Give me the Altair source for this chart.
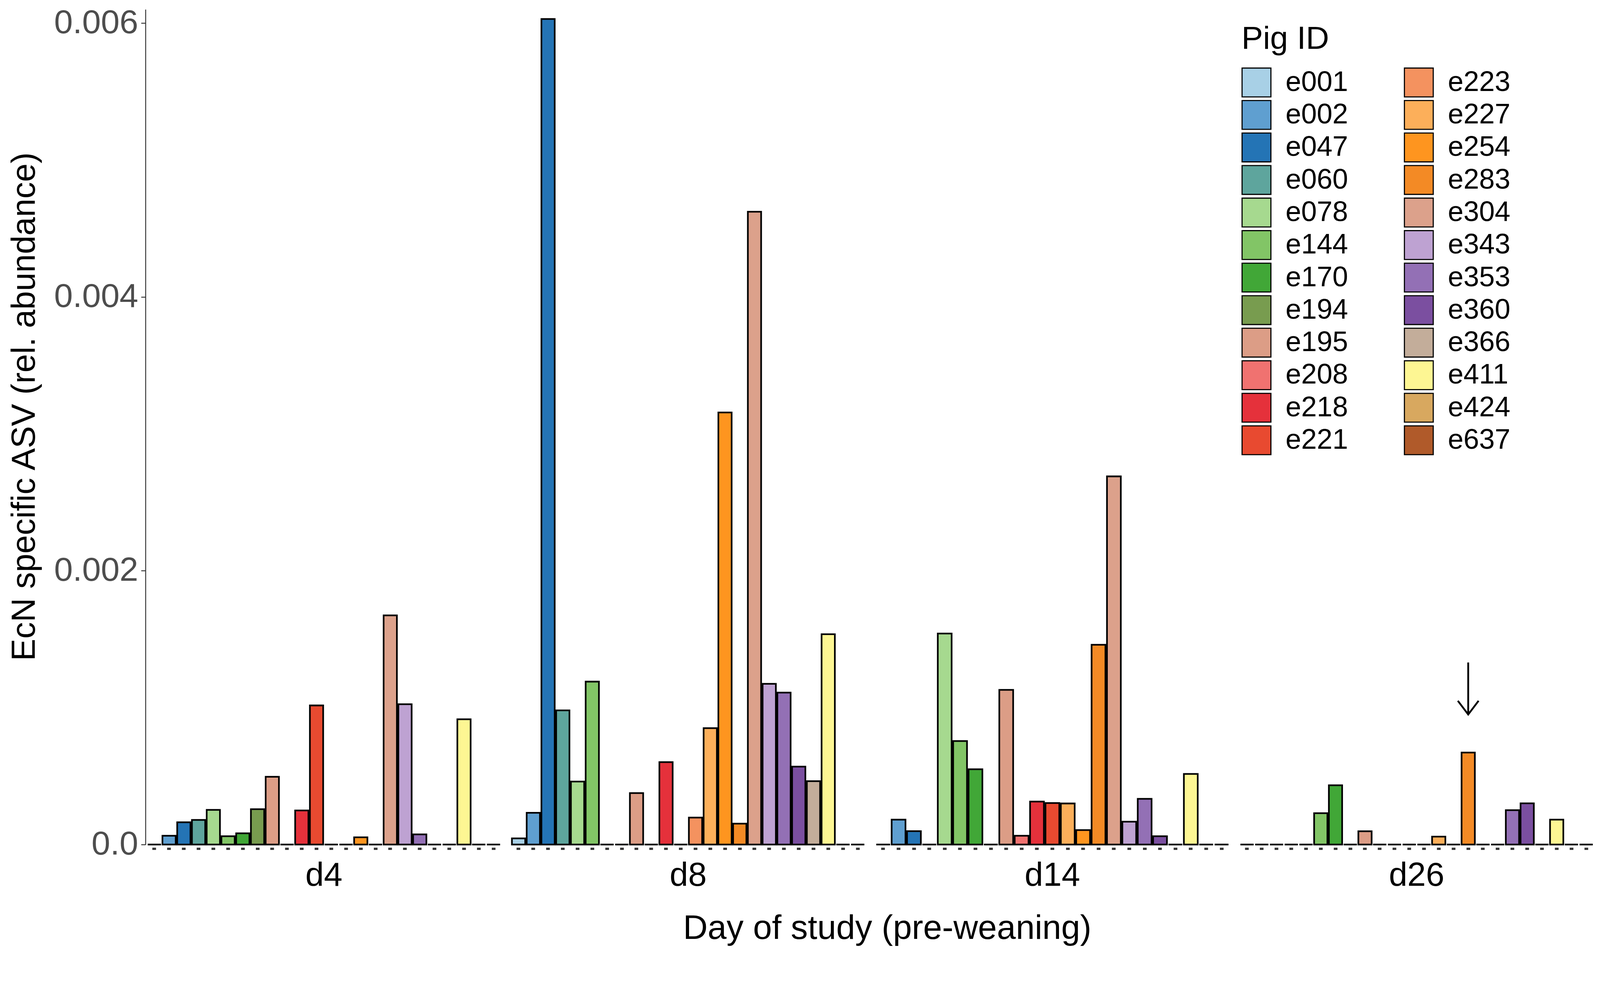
import altair as alt
import pandas as pd

PIGS = ["e001", "e002", "e047", "e060", "e078", "e144", "e170", "e194", "e195", "e208",
        "e218", "e221", "e223", "e227", "e254", "e283", "e304", "e343", "e353", "e360",
        "e366", "e411", "e424", "e637"]
COLORS = ["#a8d0e6", "#5f9fd0", "#2474b5", "#5ea59d", "#a6d98f", "#82c566", "#41a737",
          "#789c4f", "#dc9d86", "#f07270", "#e5313b", "#e84a30", "#f4925f", "#fcaf5a",
          "#fe951f", "#f38a25", "#dca18b", "#bea2d2", "#9370b5", "#7b4fa0", "#c3ad9a",
          "#fdf693", "#d8a85f", "#b05a2a"]
DAYS = ["d4", "d8", "d14", "d26"]

D4_VALUES = [0, 0.000064, 0.000163, 0.00018, 0.000253, 0.000061, 0.000082, 0.000258,
             0.000495, 0, 0.000249, 0.001016, 0, 0, 0.000053, 0, 0.001674, 0.001025,
             0.000074, 0, 0, 0.000915, 0, 0]
D8_VALUES = [0.000045, 0.000232, 0.00603, 0.00098, 0.00046, 0.00119, 0, 0, 0.000376, 0,
             0.000602, 0, 0.000197, 0.00085, 0.003156, 0.000153, 0.004622, 0.001174,
             0.00111, 0.000569, 0.000463, 0.001536, 0, 0]
D14_PIGS = [p for p in PIGS if p != "e223"]
D14_VALUES = [0, 0.000182, 0.000098, 0, 0.001541, 0.000756, 0.00055, 0, 0.00113, 0.000064,
              0.000314, 0.000303, 0.0003, 0.000106, 0.001459, 0.002689, 0.000167, 0.000334,
              0.000061, 0, 0.000516, 0, 0]
D26_VALUES = [0, 0, 0, 0, 0, 0.000229, 0.000433, 0, 0.000097, 0, 0, 0, 0, 0.000058, 0,
              0.000672, 0, 0, 0.000251, 0.000301, 0, 0.000182, 0, 0]

ARROW_DAY = "d26"
ARROW_PIG = "e283"
ARROW_TOP = 0.00133
ARROW_TIP = 0.00095

Y_TICKS = [0, 0.002, 0.004, 0.006]

rows = []
for day, pigs, vals in [("d4", PIGS, D4_VALUES), ("d8", PIGS, D8_VALUES),
                        ("d14", D14_PIGS, D14_VALUES), ("d26", PIGS, D26_VALUES)]:
    for p, v in zip(pigs, vals):
        rows.append({"day": day, "pig": p, "value": v})
df = pd.DataFrame(rows)

FONT = "Liberation Sans"
Y_TITLE = "EcN specific ASV (rel. abundance)"
X_TITLE = "Day of study (pre-weaning)"

x_enc = alt.X("pig:N", sort="ascending",
              scale=alt.Scale(paddingInner=0.1, paddingOuter=0.15),
              axis=alt.Axis(title=None, labels=False, domain=False, ticks=True,
                            tickSize=6, tickWidth=10, tickColor="#333333", offset=8,
                            grid=False))

y_axis = alt.Axis(values=Y_TICKS, title=Y_TITLE,
                  labelExpr="datum.value == 0 ? '0.0' : format(datum.value, '.3f')",
                  grid=False, domainColor="#333333", domainWidth=2.5,
                  tickColor="#333333", tickWidth=2.5, tickSize=12, labelPadding=8,
                  labelFontSize=91, labelColor="#4d4d4d", labelFont=FONT, labelLimit=400,
                  titleFontSize=90, titleFont=FONT, titleFontWeight="normal",
                  titleColor="black", titleX=-281, titleY=1074, titleLimit=3000)
y_scale = alt.Scale(domain=[0, 0.0061], nice=False, zero=True)

bars = alt.Chart().mark_bar(stroke="black", strokeWidth=4.5).encode(
    x=x_enc,
    y=alt.Y("value:Q", scale=y_scale, axis=y_axis),
    color=alt.Color("pig:N", scale=alt.Scale(domain=PIGS, range=COLORS),
                    legend=alt.Legend(
                        title="Pig ID", orient="none", legendX=2964, legendY=38,
                        columns=2, symbolType="square",
                        symbolSize=6084, symbolStrokeColor="black",
                        symbolStrokeWidth=3, symbolOpacity=1,
                        labelFontSize=76, labelFont=FONT, labelColor="black",
                        labelOffset=38, labelLimit=500, titleFontSize=87,
                        titleFont=FONT, titleLimit=500,
                        titleFontWeight="normal", titleColor="black",
                        titlePadding=32, rowPadding=-3, columnPadding=145,
                        padding=0)),
)

arrow_filter = (alt.datum.day == ARROW_DAY) & (alt.datum.pig == ARROW_PIG)

arrow_line = alt.Chart().transform_filter(arrow_filter).transform_calculate(
    value=str(ARROW_TOP), tip=str(ARROW_TIP)
).mark_rule(color="black", strokeWidth=5).encode(
    x=x_enc,
    y=alt.Y("value:Q", scale=y_scale, axis=y_axis),
    y2="tip:Q",
)

arrow_head = alt.Chart().transform_filter(arrow_filter).transform_calculate(
    value=str(ARROW_TIP)
).mark_point(shape="M-1,-1.32L0,0L1,-1.32", filled=False, stroke="black",
             strokeWidth=5, size=3136, opacity=1).encode(
    x=x_enc,
    y=alt.Y("value:Q", scale=y_scale, axis=y_axis),
)

layered = alt.layer(bars, arrow_line, arrow_head, data=df).properties(
    width=965, height=2259)

chart = layered.facet(
    column=alt.Column("day:N", sort=DAYS, title=None,
                      header=alt.Header(labelOrient="bottom",
                                        labelFontSize=90, labelFont=FONT,
                                        labelColor="black", labelPadding=22)),
    spacing=20,
).resolve_scale(x="independent").properties(
    padding={"left": 12, "top": -62, "right": 5, "bottom": 0},
    title=alt.TitleParams(X_TITLE, orient="bottom", anchor="middle", frame="bounds",
                          fontSize=92, font=FONT, fontWeight="normal", color="black",
                          offset=52, dx=232),
).configure_view(strokeWidth=0)

chart.save("out.html", embed_options={"renderer": "svg", "actions": False})
